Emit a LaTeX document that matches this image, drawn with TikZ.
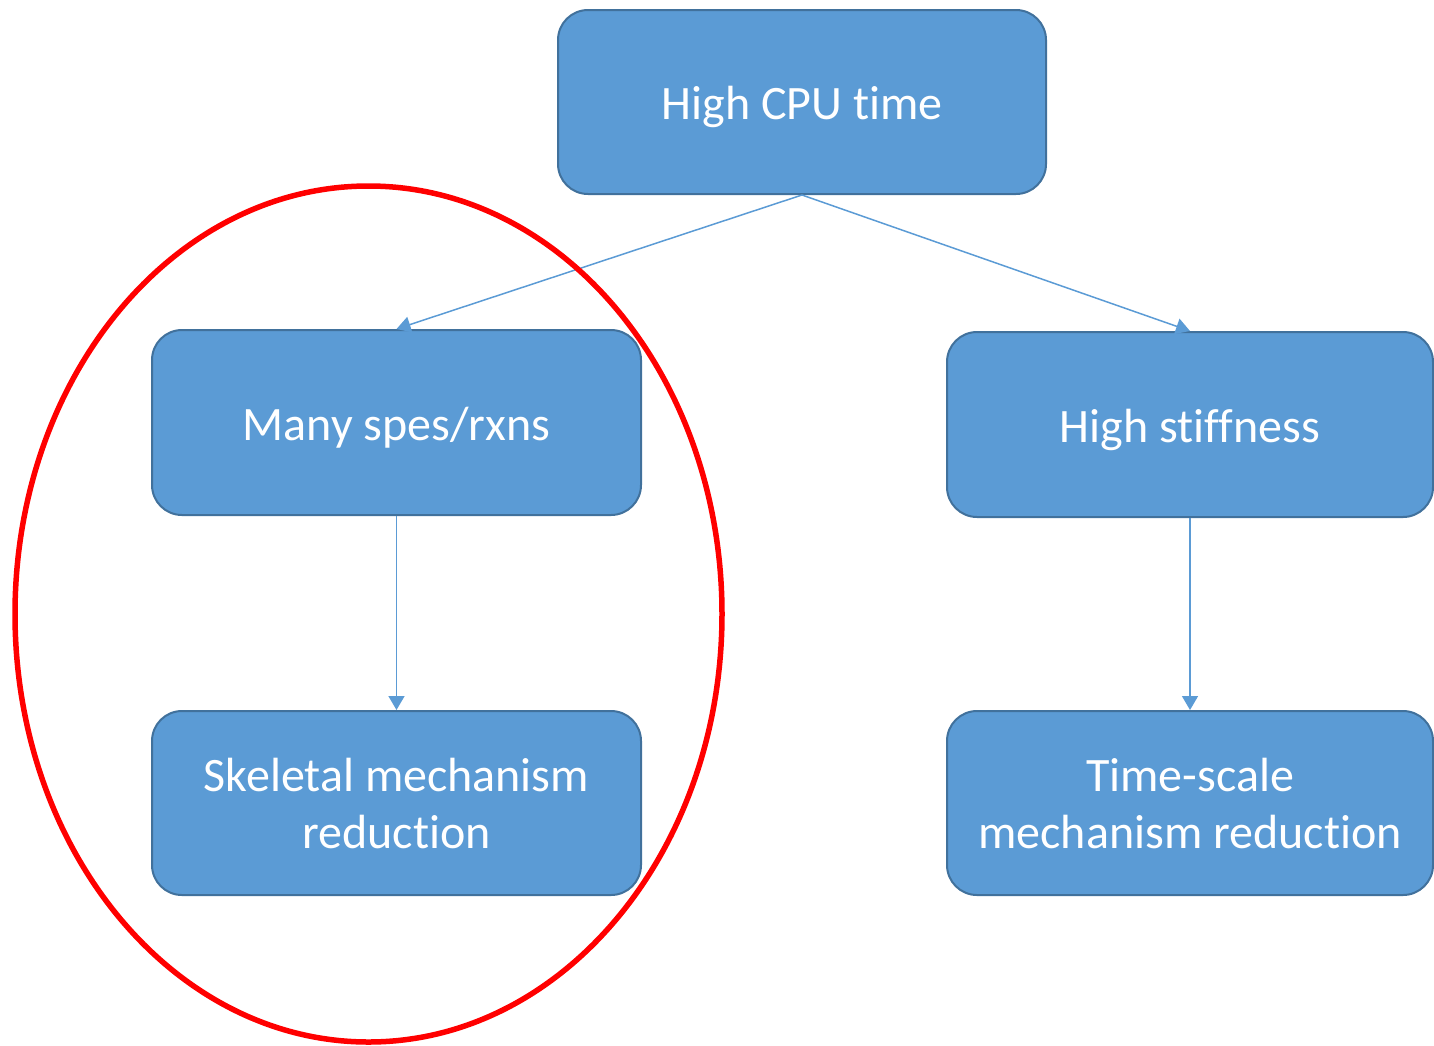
\documentclass[tikz,border=0pt]{standalone}
\usepackage{fontspec}
\setmainfont[Ligatures=NoCommon]{Carlito}
\usetikzlibrary{arrows.meta,shapes.geometric}
\definecolor{boxfill}{HTML}{5B9BD5}
\definecolor{boxline}{HTML}{41719C}
\definecolor{arr}{HTML}{5B9BD5}
\tikzset{
  box/.style={draw=boxline, line width=2pt, fill=boxfill, rounded corners=30pt, text=white,
    font=\fontsize{48}{57}\selectfont, align=center, inner sep=0pt},
  conn/.style={draw=arr, line width=1.5pt, -{Triangle[length=14pt,width=16pt]}},
}
\newcommand{\lowr}[1]{\raisebox{-5pt}[\height][\depth]{#1}}
\begin{document}
\begin{tikzpicture}[x=1pt,y=-1pt]
\useasboundingbox (0,0) rectangle (1434,1045);
\node[box, minimum width=488pt, minimum height=184pt] (top) at (802,102) {\lowr{High CPU time}};
\node[box, minimum width=489pt, minimum height=185pt] (many) at (396.5,422.5) {\lowr{Many spes/rxns}};
\node[box, minimum width=486pt, minimum height=185pt] (stiff) at (1190,424.5) {\lowr{High stiffness}};
\node[box, minimum width=489pt, minimum height=184pt] (skel) at (396.5,803) {Skeletal mechanism\\reduction};
\node[box, minimum width=486pt, minimum height=184pt] (time) at (1190,803) {Time-scale\\mechanism reduction};
\draw[conn] (top.south) -- (many.north);
\draw[conn] (top.south) -- (stiff.north);
\draw[conn] (many.south) -- (skel.north);
\draw[conn] (stiff.south) -- (time.north);
\node[draw=red, line width=5.5pt, ellipse, minimum width=707pt, minimum height=856pt, inner sep=0pt] (circ) at (368.5,614) {};
\end{tikzpicture}
\end{document}
